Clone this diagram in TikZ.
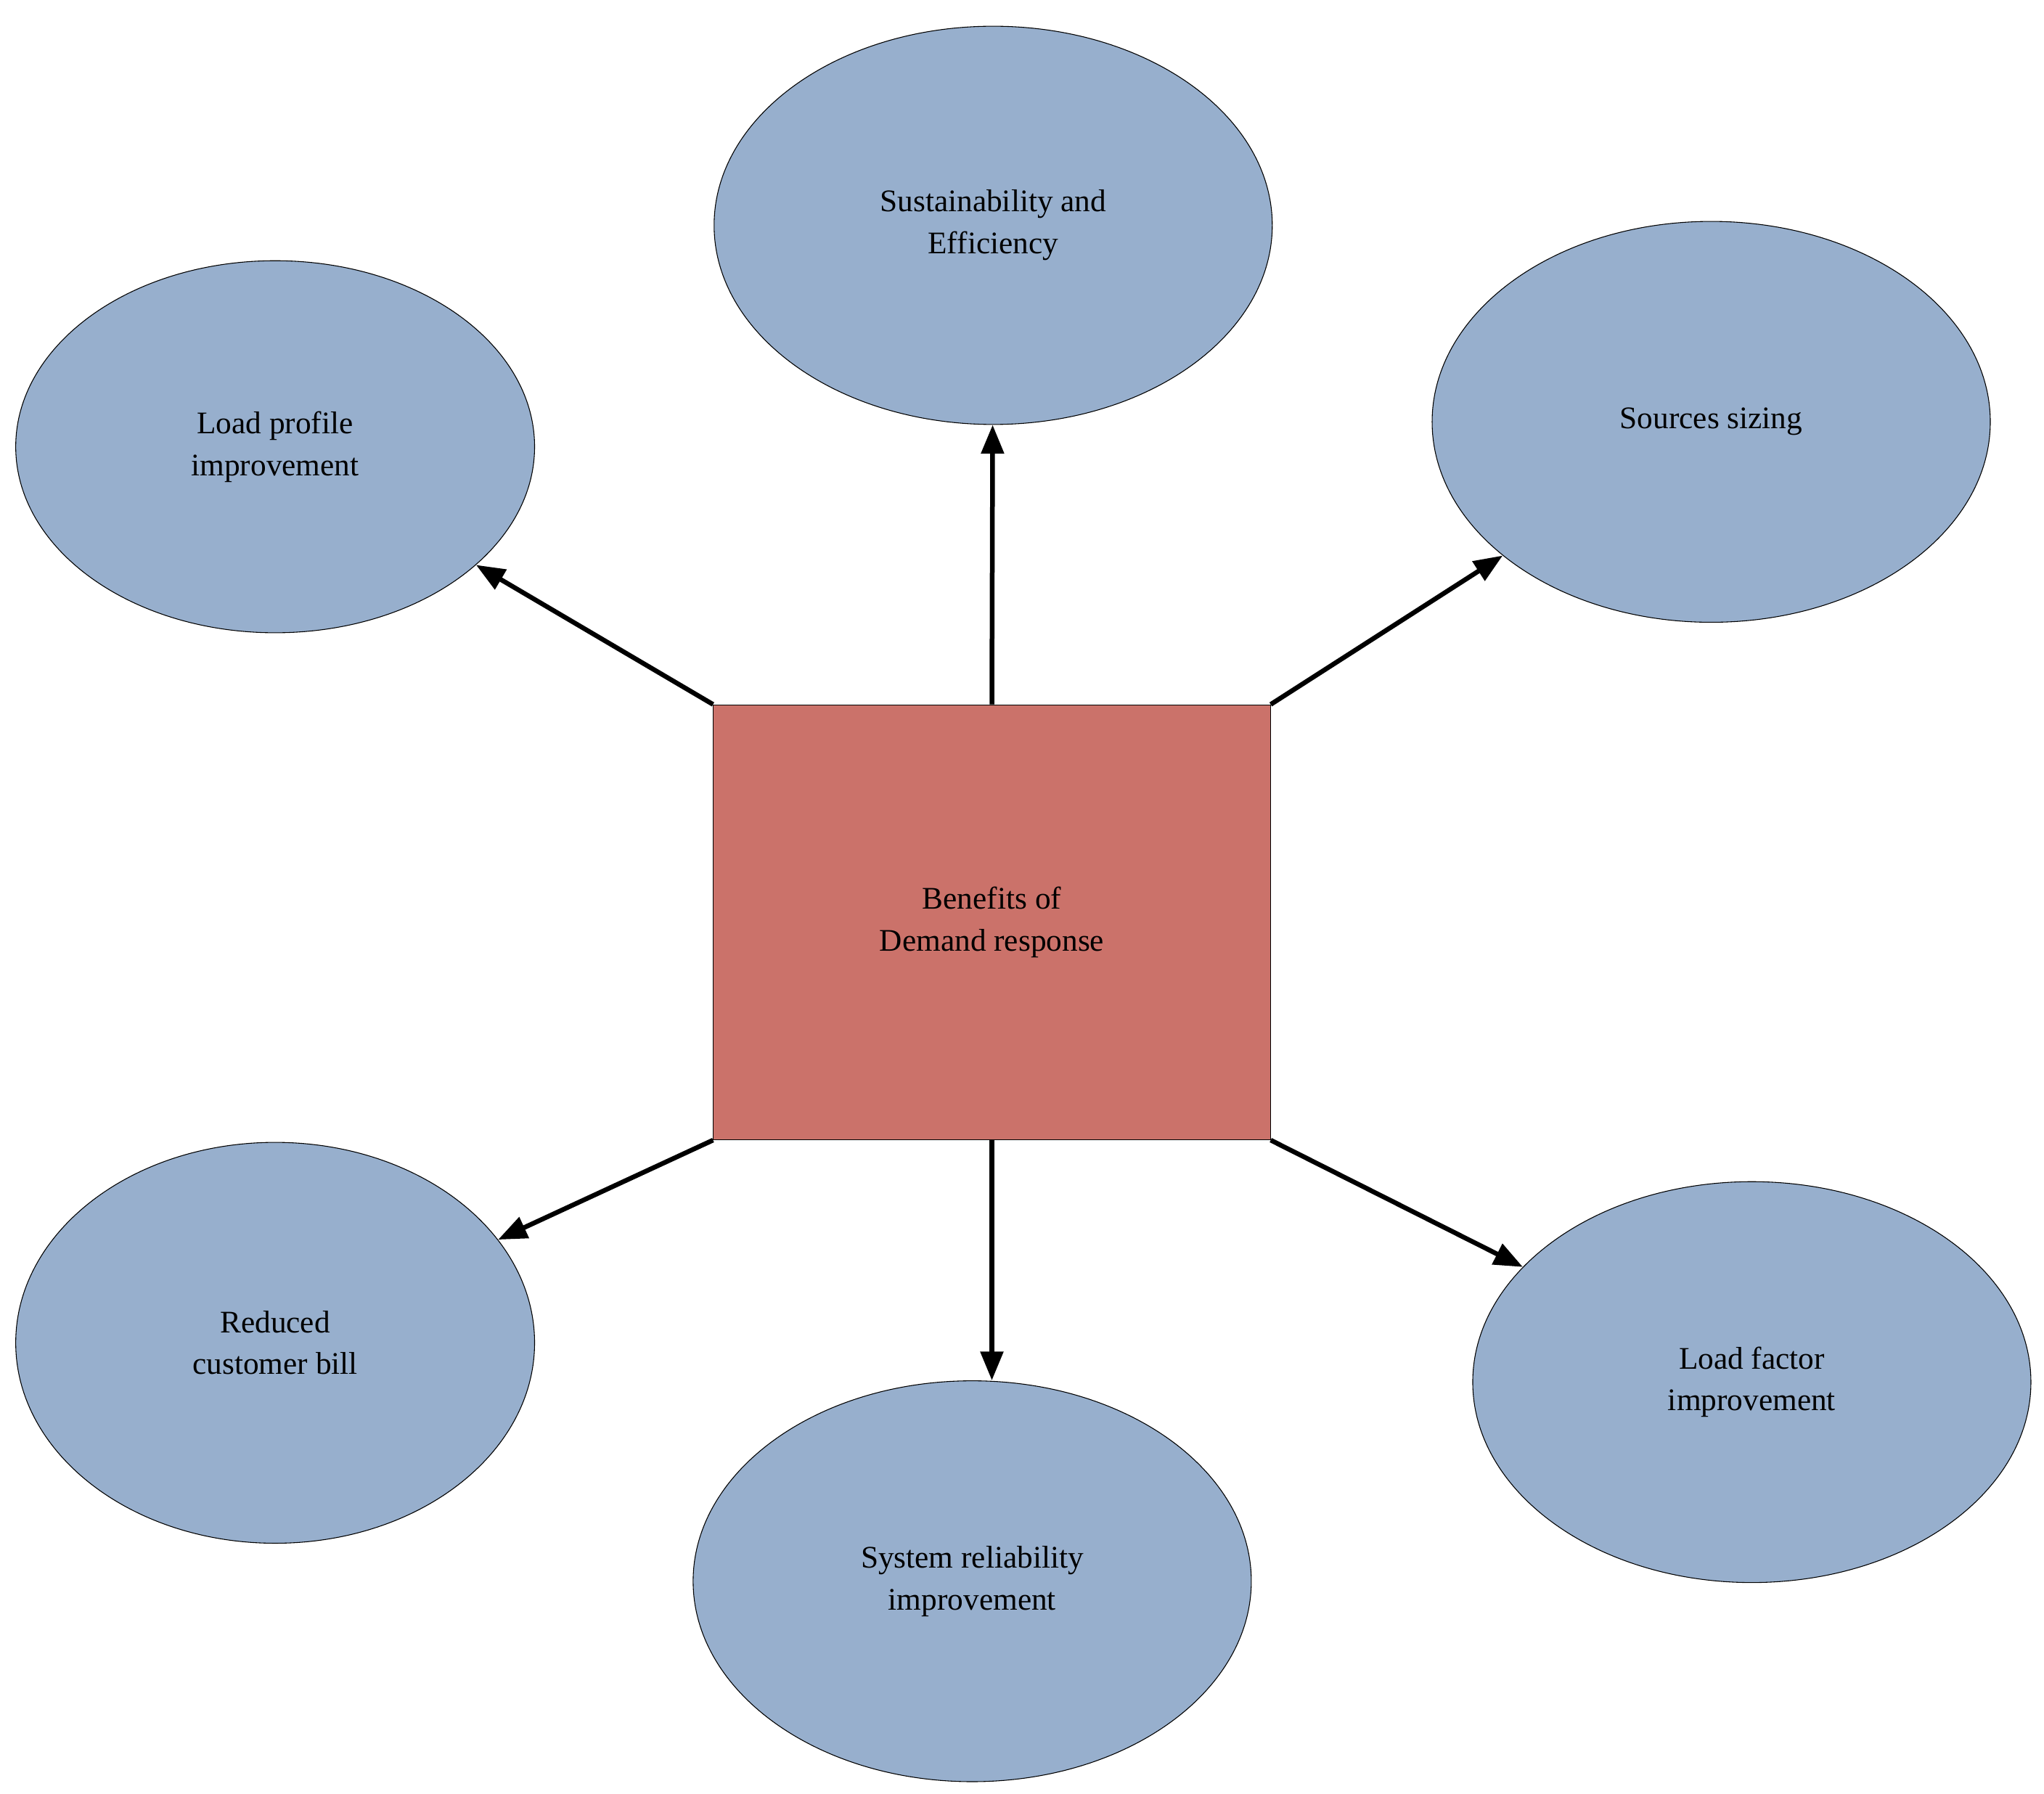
\documentclass[tikz,border=0pt]{standalone}
\usepackage{fontspec}
\setmainfont{Liberation Serif}
\usetikzlibrary{shapes.geometric,arrows.meta}
\definecolor{ell}{HTML}{97AFCD}
\definecolor{box}{HTML}{CB726A}
\begin{document}
\begin{tikzpicture}[x=1pt,y=-1pt,
  el/.style={ellipse,draw=black,fill=ell,line width=0.6pt,align=center,font=\fontsize{24}{32}\selectfont,inner sep=0pt},
  ar/.style={line width=3.6pt,-{Triangle[length=22pt,width=17pt]}}]
\useasboundingbox (0,0) rectangle (1560,1369);
\node[draw=black,fill=box,line width=0.6pt,minimum width=425pt,minimum height=332pt,align=center,font=\fontsize{24}{32}\selectfont] (c) at (757,704) {Benefits of\\Demand response};
\node[el,minimum width=426pt,minimum height=304pt] (se) at (758,172) {Sustainability and\\Efficiency};
\node[el,minimum width=396pt,minimum height=284pt] (lp) at (210,341) {Load profile\\improvement};
\node[el,minimum width=426pt,minimum height=306pt] (ss) at (1306,322) {Sources sizing};
\node[el,minimum width=396pt,minimum height=306pt] (rc) at (210,1025) {Reduced\\customer bill};
\node[el,minimum width=426pt,minimum height=306pt] (sr) at (742,1207) {System reliability\\improvement};
\node[el,minimum width=426pt,minimum height=306pt] (lf) at (1337,1055) {Load factor\\improvement};
\draw[ar] (c.north) -- (se);
\draw[ar] (c.north west) -- (lp);
\draw[ar] (c.north east) -- (ss);
\draw[ar] (c.south west) -- (rc);
\draw[ar] (c.south) -- (c.south |- sr.north);
\draw[ar] (c.south east) -- (lf);
\end{tikzpicture}
\end{document}
